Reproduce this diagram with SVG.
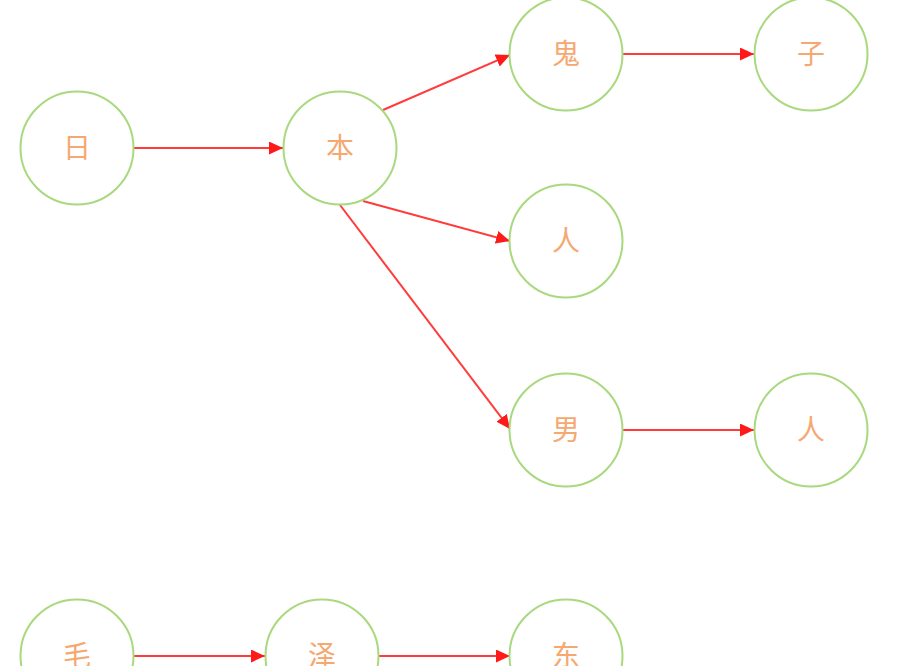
<svg xmlns="http://www.w3.org/2000/svg" width="924" height="666" viewBox="0 0 924 666">
<style>
.node circle{fill:#ffffff;stroke:#a9d97e;stroke-width:2}
.node text{fill:#f5a870;font-family:"Noto Sans CJK SC","Noto Sans CJK JP",sans-serif;font-size:28px;text-anchor:middle;dominant-baseline:central}
.edge{stroke:#ff3b3b;stroke-width:2;fill:none;marker-end:url(#arr)}
</style>
<defs>
<marker id="arr" markerUnits="userSpaceOnUse" markerWidth="14" markerHeight="13" refX="14" refY="6.5" orient="auto">
<path d="M0,0 L14,6.5 L0,13 z" fill="#ff1a1a"/>
</marker>
</defs>
<rect width="924" height="666" fill="#ffffff"/>
<g id="connectors">
<line class="edge" x1="133" y1="148" x2="283" y2="148"/>
<line class="edge" x1="383" y1="110" x2="510" y2="55"/>
<line class="edge" x1="363" y1="201" x2="510" y2="241"/>
<line class="edge" x1="340" y1="205" x2="510" y2="429"/>
<line class="edge" x1="623" y1="54" x2="754" y2="54"/>
<line class="edge" x1="623" y1="430" x2="754" y2="430"/>
<line class="edge" x1="133" y1="656" x2="265" y2="656"/>
<line class="edge" x1="378" y1="656" x2="510" y2="656"/>
</g>
<g id="n-ri" class="node"><circle cx="77" cy="148" r="56.5"/><text x="77" y="146">日</text></g>
<g id="n-ben" class="node"><circle cx="340" cy="148" r="56.5"/><text x="340" y="146">本</text></g>
<g id="n-gui" class="node"><circle cx="566" cy="54" r="56.5"/><text x="566" y="52">鬼</text></g>
<g id="n-zi" class="node"><circle cx="811" cy="54" r="56.5"/><text x="811" y="52">子</text></g>
<g id="n-ren1" class="node"><circle cx="566" cy="241" r="56.5"/><text x="566" y="239">人</text></g>
<g id="n-nan" class="node"><circle cx="566" cy="430" r="56.5"/><text x="566" y="428">男</text></g>
<g id="n-ren2" class="node"><circle cx="811" cy="430" r="56.5"/><text x="811" y="428">人</text></g>
<g id="n-mao" class="node"><circle cx="77" cy="656" r="56.5"/><text x="77" y="654">毛</text></g>
<g id="n-ze" class="node"><circle cx="322" cy="656" r="56.5"/><text x="322" y="654">泽</text></g>
<g id="n-dong" class="node"><circle cx="566" cy="656" r="56.5"/><text x="566" y="654">东</text></g>
</svg>
